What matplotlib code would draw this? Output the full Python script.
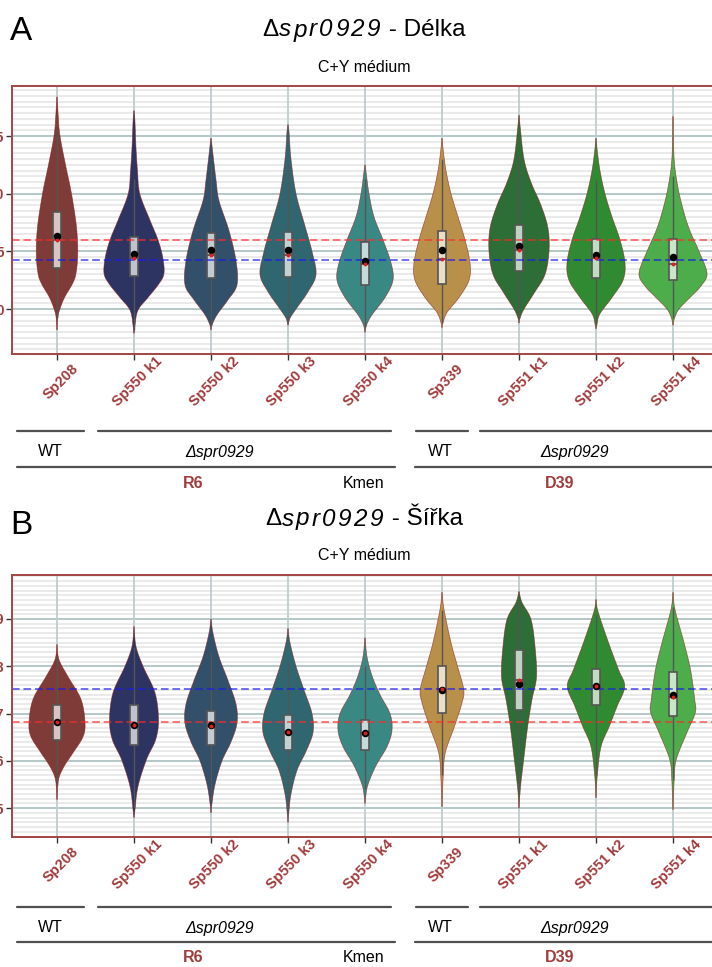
import numpy as np
import matplotlib
matplotlib.use("Agg")
import matplotlib.pyplot as plt
from matplotlib.patches import Rectangle, Polygon
from matplotlib.ticker import MultipleLocator
import matplotlib.colors as mcolors

plt.rcParams['font.family'] = ['Liberation Sans', 'DejaVu Sans']

# ---------------- data ----------------
categories = ['Sp208', 'Sp550 k1', 'Sp550 k2', 'Sp550 k3', 'Sp550 k4',
              'Sp339', 'Sp551 k1', 'Sp551 k2', 'Sp551 k4']
colors = ['#7F3B37', '#2D3462', '#32506A', '#2F6670', '#3A8883',
          '#B8904A', '#2D6D36', '#2F8A31', '#4CAD4A']

# Panel A (Délka)
A_q1 = [1.36, 1.284, 1.27, 1.28, 1.21, 1.22, 1.33, 1.27, 1.25]
A_med = [1.595, 1.44, 1.47, 1.47, 1.39, 1.43, 1.51, 1.44, 1.39]
A_q3 = [1.84, 1.626, 1.66, 1.67, 1.58, 1.68, 1.73, 1.61, 1.61]
A_mean = [1.635, 1.478, 1.51, 1.51, 1.42, 1.51, 1.55, 1.47, 1.45]
A_wlo = [0.92, 0.82, 0.86, 0.90, 0.84, 0.88, 0.92, 0.86, 0.92]
A_whi = [2.56, 2.13, 2.25, 2.26, 2.13, 2.30, 2.33, 2.12, 2.15]
A_prof_y = [
    [2.84, 2.68, 2.50, 2.23, 2.00, 1.71, 1.48, 1.31, 1.22, 1.10, 0.99, 0.92, 0.82],
    [2.72, 2.62, 2.40, 2.20, 2.00, 1.77, 1.60, 1.45, 1.31, 1.22, 1.10, 0.99, 0.86, 0.79],
    [2.48, 2.40, 2.12, 1.94, 1.68, 1.42, 1.21, 1.08, 0.95, 0.86, 0.82],
    [2.60, 2.52, 2.30, 2.00, 1.75, 1.50, 1.30, 1.15, 1.00, 0.92, 0.86],
    [2.25, 2.18, 2.00, 1.80, 1.60, 1.40, 1.25, 1.10, 0.95, 0.86, 0.80],
    [2.48, 2.38, 2.20, 2.00, 1.80, 1.60, 1.40, 1.25, 1.10, 0.97, 0.88, 0.84],
    [2.68, 2.58, 2.30, 2.10, 1.90, 1.70, 1.50, 1.30, 1.15, 1.00, 0.92, 0.88],
    [2.48, 2.38, 2.20, 2.00, 1.80, 1.60, 1.40, 1.25, 1.10, 0.96, 0.87, 0.83],
    [2.67, 2.32, 2.10, 1.90, 1.70, 1.50, 1.31, 1.20, 1.10, 1.00, 0.92, 0.86],
]
A_prof_w = [
    [0.2, 1.2, 3, 9, 14.5, 19.5, 20.7, 19, 15.5, 7.5, 2.5, 0.8, 0.2],
    [0.2, 1.0, 2, 3.5, 5.8, 16, 24, 28.7, 30, 25, 14, 4, 1, 0.2],
    [0.2, 1.2, 5, 8, 18, 25, 26, 17, 6, 1, 0.2],
    [0.2, 1.2, 3, 8, 16, 24, 28, 20, 8, 2, 0.2],
    [0.2, 1.2, 4, 9, 18, 26, 28, 20, 7, 1.5, 0.2],
    [0.2, 1.2, 4, 9, 16, 23, 28, 27, 17, 5, 1, 0.2],
    [0.2, 1.2, 5, 12, 22, 29, 30, 26, 16, 5, 1, 0.2],
    [0.2, 1.2, 4, 9, 16, 24, 29, 27, 16, 4, 1, 0.2],
    [0.2, 1, 4, 9, 16, 26, 34, 28, 17, 6, 1.5, 0.2],
]
A_red = 1.595
A_blue = 1.426

# Panel B (Šířka)
B_q1 = [0.644, 0.633, 0.634, 0.624, 0.624, 0.702, 0.708, 0.719, 0.694]
B_med = [0.682, 0.675, 0.673, 0.660, 0.658, 0.751, 0.772, 0.758, 0.734]
B_q3 = [0.718, 0.718, 0.706, 0.696, 0.687, 0.800, 0.835, 0.795, 0.787]
B_mean = [0.682, 0.675, 0.675, 0.660, 0.658, 0.749, 0.763, 0.758, 0.740]
B_wlo = [0.55, 0.50, 0.52, 0.50, 0.54, 0.57, 0.53, 0.57, 0.56]
B_whi = [0.82, 0.84, 0.83, 0.81, 0.80, 0.92, 0.935, 0.91, 0.925]
B_prof_y = [
    [0.846, 0.814, 0.778, 0.730, 0.681, 0.651, 0.617, 0.588, 0.560, 0.518],
    [0.884, 0.842, 0.800, 0.744, 0.687, 0.645, 0.603, 0.546, 0.497, 0.480],
    [0.900, 0.870, 0.820, 0.770, 0.720, 0.680, 0.640, 0.600, 0.550, 0.510, 0.490],
    [0.880, 0.850, 0.800, 0.750, 0.700, 0.660, 0.620, 0.580, 0.530, 0.490, 0.470],
    [0.860, 0.820, 0.780, 0.740, 0.700, 0.665, 0.630, 0.590, 0.550, 0.525, 0.510],
    [0.956, 0.920, 0.850, 0.800, 0.751, 0.723, 0.673, 0.617, 0.567, 0.503],
    [0.958, 0.935, 0.899, 0.842, 0.778, 0.730, 0.673, 0.603, 0.539, 0.500],
    [0.941, 0.916, 0.850, 0.793, 0.757, 0.715, 0.673, 0.630, 0.567, 0.522],
    [0.956, 0.920, 0.850, 0.793, 0.730, 0.702, 0.660, 0.603, 0.560, 0.497],
]
B_prof_w = [
    [0.15, 2, 11, 24, 28, 26, 16, 7, 1.5, 0.15],
    [0.15, 2, 9, 21, 24.5, 21.7, 12.5, 4, 1, 0.15],
    [0.15, 2, 8, 17, 25, 26, 20, 11, 4, 1, 0.15],
    [0.15, 2, 8, 16, 24, 25, 18, 9, 3, 0.8, 0.15],
    [0.15, 2, 7, 15, 25, 27, 22, 11, 3, 0.8, 0.15],
    [0.15, 2, 9, 15.5, 21.7, 20, 12.5, 3.3, 1.2, 0.15],
    [0.15, 3, 12, 16, 17.5, 13, 8.7, 4.7, 1.2, 0.15],
    [0.15, 2, 12.5, 22.5, 28.7, 21, 13.3, 5, 1.2, 0.15],
    [0.15, 2, 11, 17.5, 21.7, 22.3, 14, 3.3, 1.2, 0.15],
]
B_red = 0.682
B_blue = 0.751

A_yticks = [1.0, 1.5, 2.0, 2.5]
B_yticks = [0.5, 0.6, 0.7, 0.8, 0.9]

# ---------------- layout ----------------
W, H = 712, 967
DARKRED = '#A23B3B'
PX_PER_UNIT = 77.0

fig = plt.figure(figsize=(W / 100, H / 100), dpi=100)
renderer = fig.canvas.get_renderer()


def fx(x):
    return x / W


def fy(y):
    return 1 - y / H


def smooth(ys, ws, n=24):
    P = np.column_stack([ys, ws]).astype(float)
    P = np.vstack([P[0], P, P[-1]])
    out = []
    t = np.linspace(0, 1, n, endpoint=False)[:, None]
    for k in range(1, len(P) - 2):
        p0, p1, p2, p3 = P[k - 1], P[k], P[k + 1], P[k + 2]
        out.append(0.5 * ((2 * p1) + (-p0 + p2) * t + (2 * p0 - 5 * p1 + 4 * p2 - p3) * t ** 2
                          + (-p0 + 3 * p1 - 3 * p2 + p3) * t ** 3))
    out.append(P[-2][None])
    c = np.vstack(out)
    c[:, 1] = np.clip(c[:, 1], 0.1, None)
    return c


def lighten(c, f=0.72):
    r = np.array(mcolors.to_rgb(c))
    return tuple(r + (1 - r) * f)


def rich_text(cx_px, cy_px, pieces, fontsize):
    items = []
    total = 0.0
    for s, style, track in pieces:
        chunks = list(s) if track else [s]
        for ch in chunks:
            t = fig.text(0, fy(cy_px), ch, fontsize=fontsize, fontstyle=style,
                         ha='left', va='center')
            w = t.get_window_extent(renderer).width + track
            items.append((t, w))
            total += w
    x = cx_px - total / 2
    for t, w in items:
        t.set_x(fx(x))
        x += w


def panel(top_px, bot_px, q1, med, q3, mean, wlo, whi, py, pw, red, blue,
          yticks, ylim, minor_step):
    left_px = 12
    width_px = 9.2 * PX_PER_UNIT
    ax = fig.add_axes([fx(left_px), fy(bot_px), width_px / W, (bot_px - top_px) / H])
    x0 = -45 / PX_PER_UNIT
    ax.set_xlim(x0, x0 + 9.2)
    ax.set_ylim(*ylim)
    ax.set_axisbelow(True)
    ax.set_facecolor('white')
    ax.yaxis.set_minor_locator(MultipleLocator(minor_step))
    ax.yaxis.grid(True, which='minor', color='#E4E4E4', lw=1.1, zorder=0.3)
    ax.yaxis.grid(True, which='major', color='#A9BEBE', lw=1.2, zorder=0.5)
    ax.set_xticks(range(len(categories)))
    ax.set_xticklabels([])
    for i in range(len(categories)):
        ax.axvline(i, color='#BCCDCD', lw=1.3, zorder=0.8)
    ax.set_yticks(yticks)
    ax.set_yticklabels(['%.1f' % v for v in yticks], color=DARKRED,
                       fontweight='bold', fontsize=10)
    ax.tick_params(axis='both', which='major', length=4, width=1.0, color='#333333', pad=1.5)
    ax.tick_params(axis='y', which='minor', length=0)
    for s in ax.spines.values():
        s.set_color('#A34444')
        s.set_linewidth(1.4)
        s.set_zorder(10)

    for i in range(len(categories)):
        c = smooth(py[i], pw[i])
        yy = c[:, 0]
        ww = c[:, 1] / PX_PER_UNIT
        xs = np.concatenate([i + ww, (i - ww)[::-1]])
        ys = np.concatenate([yy, yy[::-1]])
        ax.add_patch(Polygon(np.column_stack([xs, ys]), closed=True,
                             facecolor=colors[i], edgecolor=(0.55, 0.1, 0.1, 0.65),
                             lw=0.5, zorder=2))
        ax.plot([i, i], [wlo[i], whi[i]], color='#555555', lw=1.0, zorder=3,
                solid_capstyle='butt')
        bw = 0.095
        ax.add_patch(Rectangle((i - bw / 2, q1[i]), bw, q3[i] - q1[i],
                               facecolor=lighten(colors[i], 0.7), edgecolor='#555555',
                               lw=1.2, zorder=4))
        ax.plot([i - bw / 2, i + bw / 2], [med[i], med[i]], color='#555555', lw=1.3, zorder=5)
        ax.plot([i], [mean[i]], 'o', color='black', ms=4.4, zorder=7)
        ax.plot([i], [med[i]], 'o', color='#E02020', ms=1.8, zorder=8)

    ax.axhline(red, color='#FF2A2A', lw=1.1, dashes=(5, 2.5), alpha=0.8, zorder=6)
    ax.axhline(blue, color='#1A1AEE', lw=1.1, dashes=(5, 2.5), alpha=0.8, zorder=6)

    for i, lab in enumerate(categories):
        ax.annotate(lab, xy=(i, 0), xycoords=('data', 'axes fraction'),
                    xytext=(4 * 0.72, -28 * 0.72), textcoords='offset points',
                    rotation=45, ha='center', va='center', rotation_mode='anchor',
                    color=DARKRED, fontweight='bold', fontsize=10.5, annotation_clip=False)
    return ax


def groups(y_line1, y_text1, y_line2, y_text2):
    segs1 = [(17, 84), (98, 391), (416, 468), (480, 716)]
    segs2 = [(17, 395), (415, 716)]
    for a, b in segs1:
        fig.add_artist(plt.Line2D([fx(a), fx(b)], [fy(y_line1)] * 2, color='#505050',
                                  lw=1.6, solid_capstyle='round', transform=fig.transFigure))
    for a, b in segs2:
        fig.add_artist(plt.Line2D([fx(a), fx(b)], [fy(y_line2)] * 2, color='#505050',
                                  lw=1.6, solid_capstyle='round', transform=fig.transFigure))
    fig.text(fx(50), fy(y_text1), 'WT', ha='center', va='center', fontsize=11.5)
    fig.text(fx(220), fy(y_text1), 'Δspr0929', ha='center', va='center', fontsize=11.5,
             fontstyle='italic')
    fig.text(fx(440), fy(y_text1), 'WT', ha='center', va='center', fontsize=11.5)
    fig.text(fx(575), fy(y_text1), 'Δspr0929', ha='center', va='center', fontsize=11.5,
             fontstyle='italic')
    fig.text(fx(193), fy(y_text2), 'R6', ha='center', va='center', fontsize=11.5,
             fontweight='bold', color=DARKRED)
    fig.text(fx(364), fy(y_text2), 'Kmen', ha='center', va='center', fontsize=11.5)
    fig.text(fx(560), fy(y_text2), 'D39', ha='center', va='center', fontsize=11.5,
             fontweight='bold', color=DARKRED)


# Panel A
panel(86, 354, A_q1, A_med, A_q3, A_mean, A_wlo, A_whi, A_prof_y, A_prof_w,
      A_red, A_blue, A_yticks, (0.61, 2.935), 0.05)
fig.text(fx(21), fy(31), 'A', ha='center', va='center', fontsize=24)
rich_text(364, 30, [('Δ', 'normal', 0), ('spr0929', 'italic', 2.2), (' - Délka', 'normal', 0)], 17.5)
fig.text(fx(364), fy(67), 'C+Y médium', ha='center', va='center', fontsize=11.5)
groups(431, 452, 467, 483)

# Panel B
panel(575, 837, B_q1, B_med, B_q3, B_mean, B_wlo, B_whi, B_prof_y, B_prof_w,
      B_red, B_blue, B_yticks, (0.439, 0.993), 0.01)
fig.text(fx(21), fy(525), 'B', ha='center', va='center', fontsize=24)
rich_text(364, 519, [('Δ', 'normal', 0), ('spr0929', 'italic', 2.2), (' - Šířka', 'normal', 0)], 17.5)
fig.text(fx(364), fy(555), 'C+Y médium', ha='center', va='center', fontsize=11.5)
groups(906.5, 928, 941.5, 957)

fig.savefig('out.png', dpi=100)
